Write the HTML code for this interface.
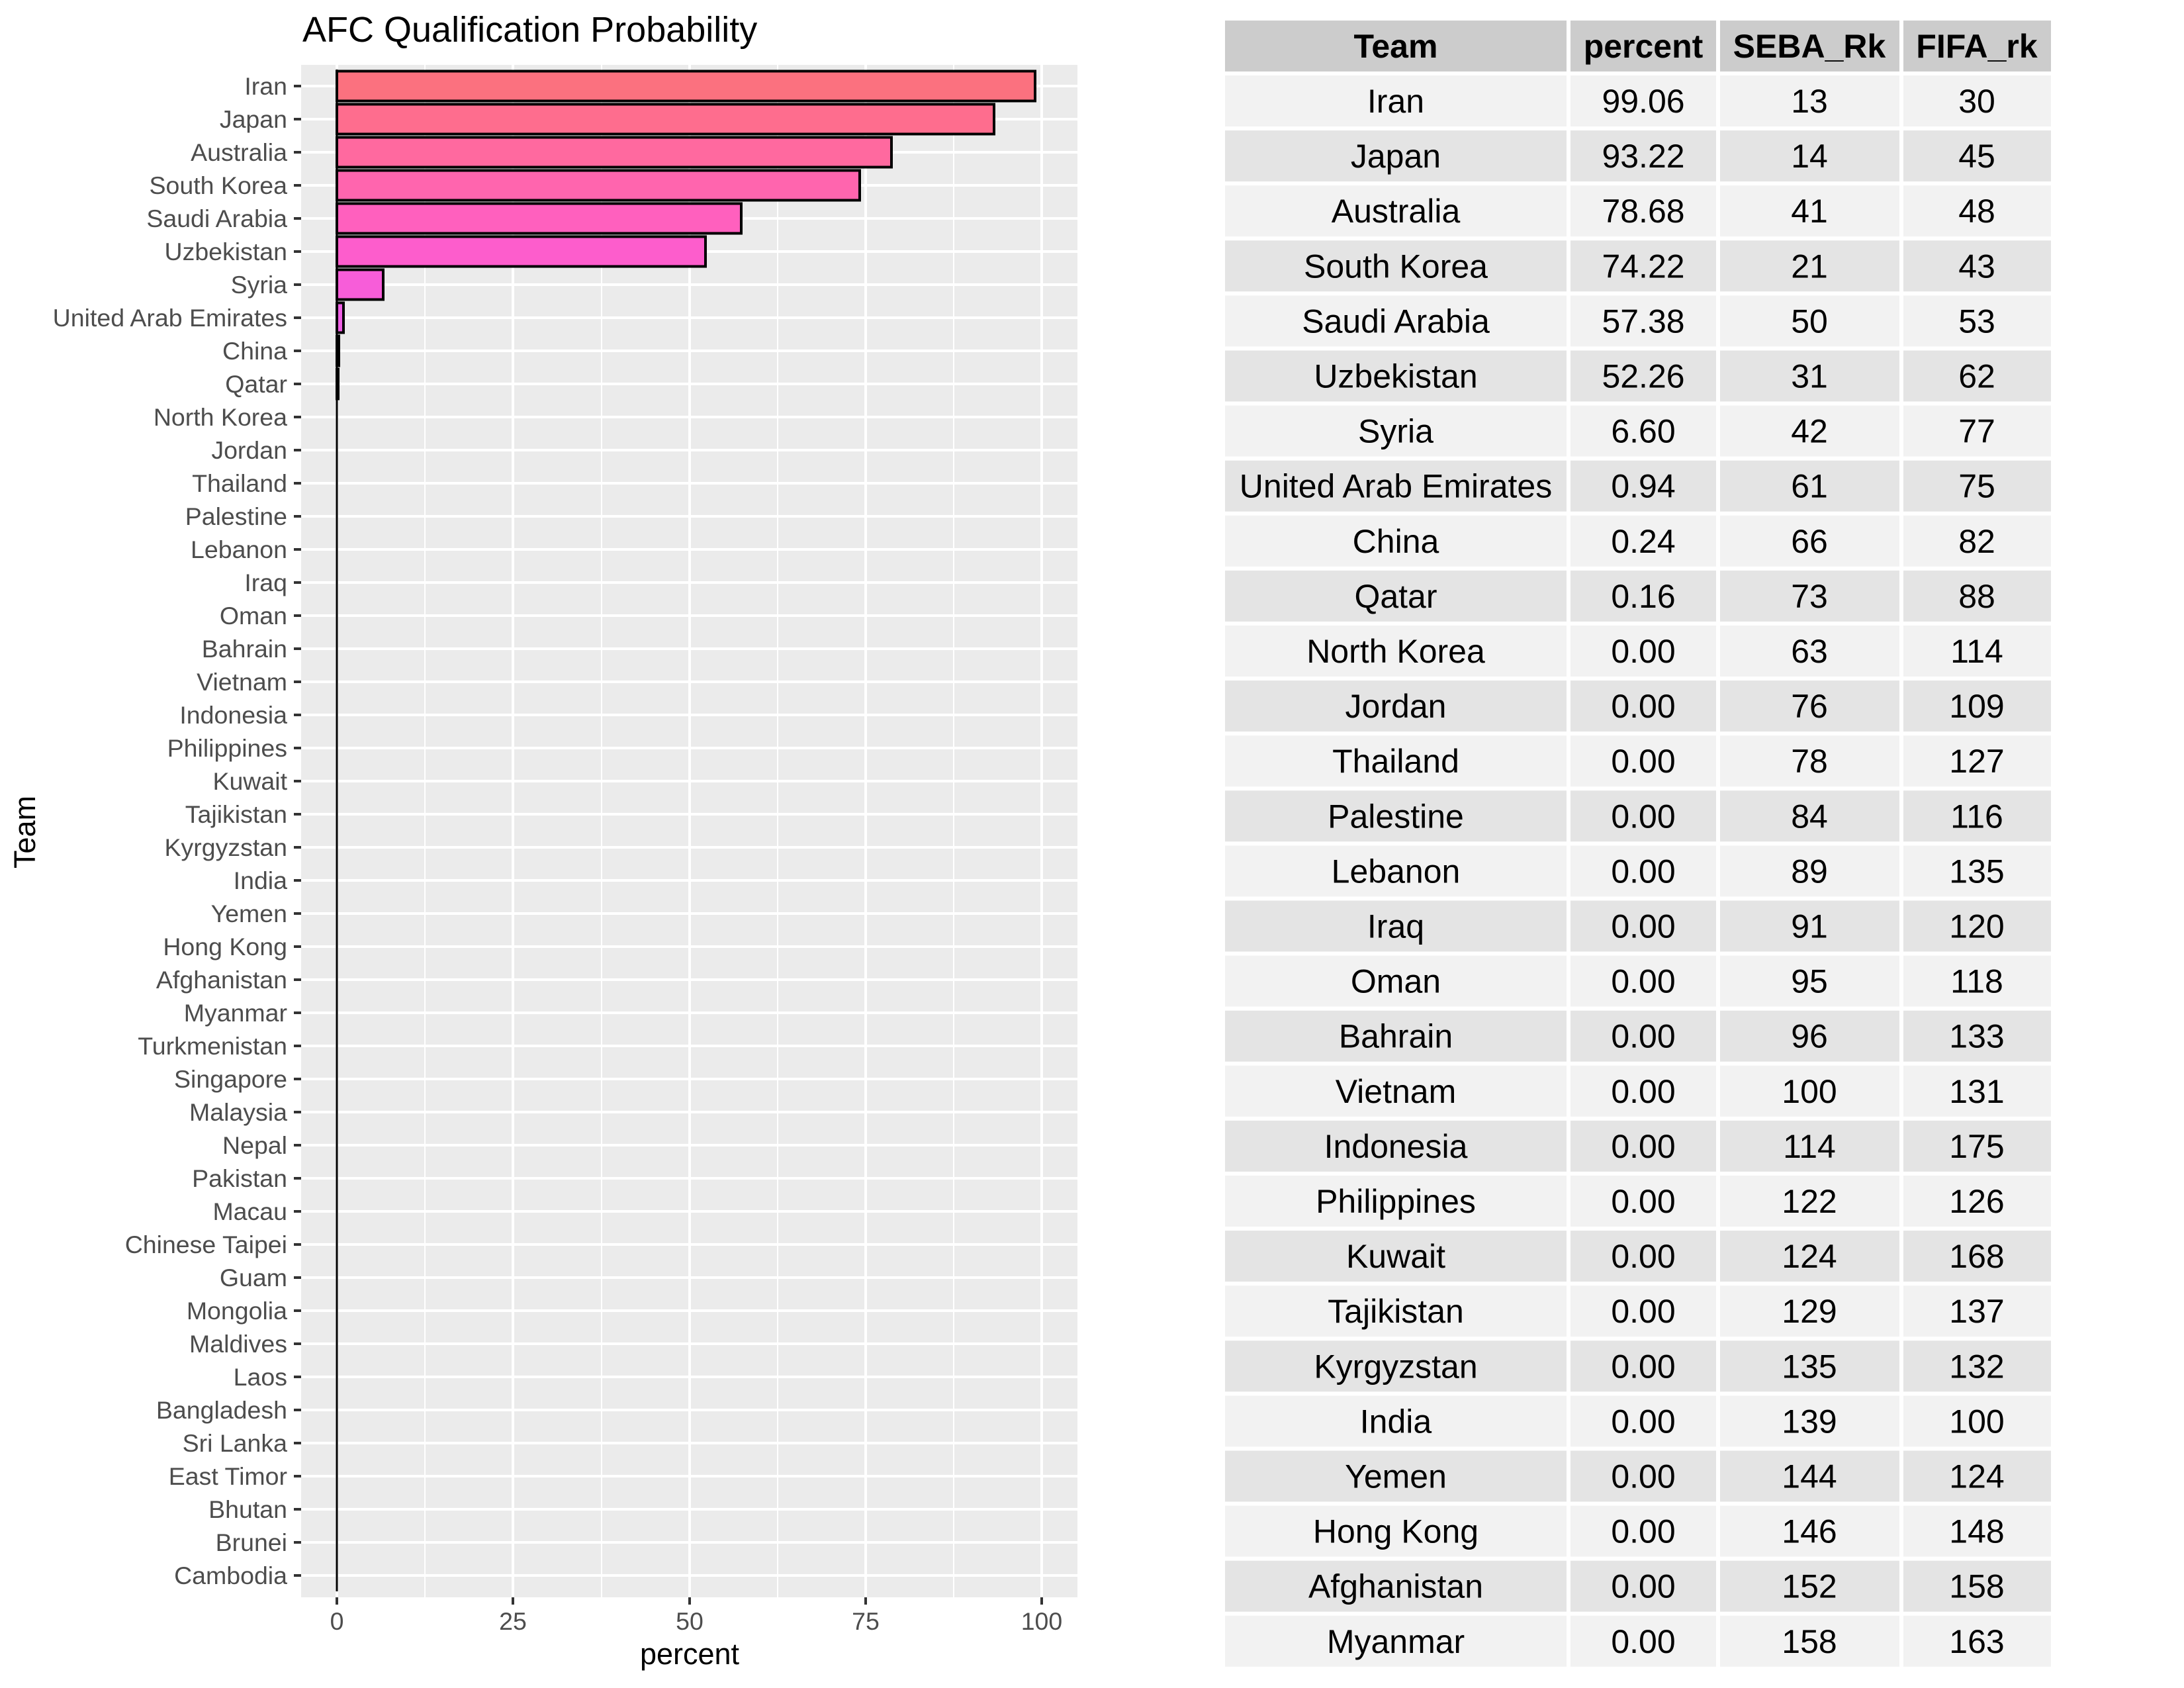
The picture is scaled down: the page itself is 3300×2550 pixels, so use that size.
<!DOCTYPE html>
<html><head><meta charset="utf-8"><style>
body{margin:0;background:#fff}
svg{display:block}
</style></head><body>
<svg width="3300" height="2550" xmlns="http://www.w3.org/2000/svg" font-family="Liberation Sans, sans-serif">
<rect width="3300" height="2550" fill="#fff"/>
<text x="457" y="63" font-size="54" fill="#000">AFC Qualification Probability</text>
<rect x="455" y="98" width="1173" height="2315" fill="#EBEBEB"/>
<g stroke="#fff" stroke-width="2">
<line x1="642" y1="98" x2="642" y2="2413"/><line x1="909" y1="98" x2="909" y2="2413"/><line x1="1175" y1="98" x2="1175" y2="2413"/><line x1="1441" y1="98" x2="1441" y2="2413"/>
</g>
<g stroke="#fff" stroke-width="4">
<line x1="509" y1="98" x2="509" y2="2413"/><line x1="775" y1="98" x2="775" y2="2413"/><line x1="1042" y1="98" x2="1042" y2="2413"/><line x1="1308" y1="98" x2="1308" y2="2413"/><line x1="1574" y1="98" x2="1574" y2="2413"/>
</g>
<g stroke="#fff" stroke-width="4">
<line x1="455" x2="1628" y1="130" y2="130"/><line x1="455" x2="1628" y1="180" y2="180"/><line x1="455" x2="1628" y1="230" y2="230"/><line x1="455" x2="1628" y1="280" y2="280"/><line x1="455" x2="1628" y1="330" y2="330"/><line x1="455" x2="1628" y1="380" y2="380"/><line x1="455" x2="1628" y1="430" y2="430"/><line x1="455" x2="1628" y1="480" y2="480"/><line x1="455" x2="1628" y1="530" y2="530"/><line x1="455" x2="1628" y1="580" y2="580"/><line x1="455" x2="1628" y1="630" y2="630"/><line x1="455" x2="1628" y1="680" y2="680"/><line x1="455" x2="1628" y1="730" y2="730"/><line x1="455" x2="1628" y1="780" y2="780"/><line x1="455" x2="1628" y1="830" y2="830"/><line x1="455" x2="1628" y1="880" y2="880"/><line x1="455" x2="1628" y1="930" y2="930"/><line x1="455" x2="1628" y1="980" y2="980"/><line x1="455" x2="1628" y1="1030" y2="1030"/><line x1="455" x2="1628" y1="1080" y2="1080"/><line x1="455" x2="1628" y1="1130" y2="1130"/><line x1="455" x2="1628" y1="1180" y2="1180"/><line x1="455" x2="1628" y1="1230" y2="1230"/><line x1="455" x2="1628" y1="1280" y2="1280"/><line x1="455" x2="1628" y1="1330" y2="1330"/><line x1="455" x2="1628" y1="1380" y2="1380"/><line x1="455" x2="1628" y1="1430" y2="1430"/><line x1="455" x2="1628" y1="1480" y2="1480"/><line x1="455" x2="1628" y1="1530" y2="1530"/><line x1="455" x2="1628" y1="1580" y2="1580"/><line x1="455" x2="1628" y1="1630" y2="1630"/><line x1="455" x2="1628" y1="1680" y2="1680"/><line x1="455" x2="1628" y1="1730" y2="1730"/><line x1="455" x2="1628" y1="1780" y2="1780"/><line x1="455" x2="1628" y1="1830" y2="1830"/><line x1="455" x2="1628" y1="1880" y2="1880"/><line x1="455" x2="1628" y1="1930" y2="1930"/><line x1="455" x2="1628" y1="1980" y2="1980"/><line x1="455" x2="1628" y1="2030" y2="2030"/><line x1="455" x2="1628" y1="2080" y2="2080"/><line x1="455" x2="1628" y1="2130" y2="2130"/><line x1="455" x2="1628" y1="2180" y2="2180"/><line x1="455" x2="1628" y1="2230" y2="2230"/><line x1="455" x2="1628" y1="2280" y2="2280"/><line x1="455" x2="1628" y1="2330" y2="2330"/><line x1="455" x2="1628" y1="2380" y2="2380"/>
</g>
<line x1="509" y1="105" x2="509" y2="2404" stroke="#000" stroke-width="3"/>
<g stroke="#000" stroke-width="4">
<rect x="509" y="107.5" width="1055" height="45" fill="#FB717F"/>
<rect x="509" y="157.5" width="993" height="45" fill="#FE6D8E"/>
<rect x="509" y="207.5" width="838" height="45" fill="#FF699F"/>
<rect x="509" y="257.5" width="790" height="45" fill="#FF65AE"/>
<rect x="509" y="307.5" width="611" height="45" fill="#FF60BE"/>
<rect x="509" y="357.5" width="557" height="45" fill="#FD5DCC"/>
<rect x="509" y="407.5" width="70" height="45" fill="#F75DD9"/>
<rect x="509" y="457.5" width="10" height="45" fill="#EE5FE4"/>
<rect x="509" y="507.5" width="3" height="45" fill="#E462EC"/>
<rect x="509" y="557.5" width="2" height="45" fill="#D866F3"/>
</g>
<g stroke="#333" stroke-width="4">
<line x1="444" x2="455" y1="130" y2="130"/><line x1="444" x2="455" y1="180" y2="180"/><line x1="444" x2="455" y1="230" y2="230"/><line x1="444" x2="455" y1="280" y2="280"/><line x1="444" x2="455" y1="330" y2="330"/><line x1="444" x2="455" y1="380" y2="380"/><line x1="444" x2="455" y1="430" y2="430"/><line x1="444" x2="455" y1="480" y2="480"/><line x1="444" x2="455" y1="530" y2="530"/><line x1="444" x2="455" y1="580" y2="580"/><line x1="444" x2="455" y1="630" y2="630"/><line x1="444" x2="455" y1="680" y2="680"/><line x1="444" x2="455" y1="730" y2="730"/><line x1="444" x2="455" y1="780" y2="780"/><line x1="444" x2="455" y1="830" y2="830"/><line x1="444" x2="455" y1="880" y2="880"/><line x1="444" x2="455" y1="930" y2="930"/><line x1="444" x2="455" y1="980" y2="980"/><line x1="444" x2="455" y1="1030" y2="1030"/><line x1="444" x2="455" y1="1080" y2="1080"/><line x1="444" x2="455" y1="1130" y2="1130"/><line x1="444" x2="455" y1="1180" y2="1180"/><line x1="444" x2="455" y1="1230" y2="1230"/><line x1="444" x2="455" y1="1280" y2="1280"/><line x1="444" x2="455" y1="1330" y2="1330"/><line x1="444" x2="455" y1="1380" y2="1380"/><line x1="444" x2="455" y1="1430" y2="1430"/><line x1="444" x2="455" y1="1480" y2="1480"/><line x1="444" x2="455" y1="1530" y2="1530"/><line x1="444" x2="455" y1="1580" y2="1580"/><line x1="444" x2="455" y1="1630" y2="1630"/><line x1="444" x2="455" y1="1680" y2="1680"/><line x1="444" x2="455" y1="1730" y2="1730"/><line x1="444" x2="455" y1="1780" y2="1780"/><line x1="444" x2="455" y1="1830" y2="1830"/><line x1="444" x2="455" y1="1880" y2="1880"/><line x1="444" x2="455" y1="1930" y2="1930"/><line x1="444" x2="455" y1="1980" y2="1980"/><line x1="444" x2="455" y1="2030" y2="2030"/><line x1="444" x2="455" y1="2080" y2="2080"/><line x1="444" x2="455" y1="2130" y2="2130"/><line x1="444" x2="455" y1="2180" y2="2180"/><line x1="444" x2="455" y1="2230" y2="2230"/><line x1="444" x2="455" y1="2280" y2="2280"/><line x1="444" x2="455" y1="2330" y2="2330"/><line x1="444" x2="455" y1="2380" y2="2380"/>
<line x1="509" x2="509" y1="2413" y2="2424"/><line x1="775" x2="775" y1="2413" y2="2424"/><line x1="1042" x2="1042" y1="2413" y2="2424"/><line x1="1308" x2="1308" y1="2413" y2="2424"/><line x1="1574" x2="1574" y1="2413" y2="2424"/>
</g>
<g font-size="37.5" fill="#4D4D4D" text-anchor="end">
<text x="434" y="143">Iran</text><text x="434" y="193">Japan</text><text x="434" y="243">Australia</text><text x="434" y="293">South Korea</text><text x="434" y="343">Saudi Arabia</text><text x="434" y="393">Uzbekistan</text><text x="434" y="443">Syria</text><text x="434" y="493">United Arab Emirates</text><text x="434" y="543">China</text><text x="434" y="593">Qatar</text><text x="434" y="643">North Korea</text><text x="434" y="693">Jordan</text><text x="434" y="743">Thailand</text><text x="434" y="793">Palestine</text><text x="434" y="843">Lebanon</text><text x="434" y="893">Iraq</text><text x="434" y="943">Oman</text><text x="434" y="993">Bahrain</text><text x="434" y="1043">Vietnam</text><text x="434" y="1093">Indonesia</text><text x="434" y="1143">Philippines</text><text x="434" y="1193">Kuwait</text><text x="434" y="1243">Tajikistan</text><text x="434" y="1293">Kyrgyzstan</text><text x="434" y="1343">India</text><text x="434" y="1393">Yemen</text><text x="434" y="1443">Hong Kong</text><text x="434" y="1493">Afghanistan</text><text x="434" y="1543">Myanmar</text><text x="434" y="1593">Turkmenistan</text><text x="434" y="1643">Singapore</text><text x="434" y="1693">Malaysia</text><text x="434" y="1743">Nepal</text><text x="434" y="1793">Pakistan</text><text x="434" y="1843">Macau</text><text x="434" y="1893">Chinese Taipei</text><text x="434" y="1943">Guam</text><text x="434" y="1993">Mongolia</text><text x="434" y="2043">Maldives</text><text x="434" y="2093">Laos</text><text x="434" y="2143">Bangladesh</text><text x="434" y="2193">Sri Lanka</text><text x="434" y="2243">East Timor</text><text x="434" y="2293">Bhutan</text><text x="434" y="2343">Brunei</text><text x="434" y="2393">Cambodia</text>
</g>
<g font-size="37.5" fill="#4D4D4D" text-anchor="middle">
<text x="509" y="2462">0</text><text x="775" y="2462">25</text><text x="1042" y="2462">50</text><text x="1308" y="2462">75</text><text x="1574" y="2462">100</text>
</g>
<text x="1042" y="2514" font-size="45" text-anchor="middle" fill="#000">percent</text>
<text transform="translate(53,1257) rotate(-90)" font-size="45" text-anchor="middle" fill="#000">Team</text>

<g fill="#CCCCCC">
<rect x="1851" y="31" width="516" height="77"/><rect x="2373" y="31" width="220" height="77"/><rect x="2599" y="31" width="271" height="77"/><rect x="2876" y="31" width="223" height="77"/>
</g>
<g font-size="50" font-weight="bold" text-anchor="middle" fill="#000">
<text x="2109" y="87">Team</text><text x="2483" y="87">percent</text><text x="2734" y="87">SEBA_Rk</text><text x="2987" y="87">FIFA_rk</text>
</g>
<g>
<g fill="#F2F2F2"><rect x="1851" y="114" width="516" height="77"/><rect x="2373" y="114" width="220" height="77"/><rect x="2599" y="114" width="271" height="77"/><rect x="2876" y="114" width="223" height="77"/></g>
<g fill="#E4E4E4"><rect x="1851" y="197.1" width="516" height="77"/><rect x="2373" y="197.1" width="220" height="77"/><rect x="2599" y="197.1" width="271" height="77"/><rect x="2876" y="197.1" width="223" height="77"/></g>
<g fill="#F2F2F2"><rect x="1851" y="280.2" width="516" height="77"/><rect x="2373" y="280.2" width="220" height="77"/><rect x="2599" y="280.2" width="271" height="77"/><rect x="2876" y="280.2" width="223" height="77"/></g>
<g fill="#E4E4E4"><rect x="1851" y="363.3" width="516" height="77"/><rect x="2373" y="363.3" width="220" height="77"/><rect x="2599" y="363.3" width="271" height="77"/><rect x="2876" y="363.3" width="223" height="77"/></g>
<g fill="#F2F2F2"><rect x="1851" y="446.4" width="516" height="77"/><rect x="2373" y="446.4" width="220" height="77"/><rect x="2599" y="446.4" width="271" height="77"/><rect x="2876" y="446.4" width="223" height="77"/></g>
<g fill="#E4E4E4"><rect x="1851" y="529.5" width="516" height="77"/><rect x="2373" y="529.5" width="220" height="77"/><rect x="2599" y="529.5" width="271" height="77"/><rect x="2876" y="529.5" width="223" height="77"/></g>
<g fill="#F2F2F2"><rect x="1851" y="612.6" width="516" height="77"/><rect x="2373" y="612.6" width="220" height="77"/><rect x="2599" y="612.6" width="271" height="77"/><rect x="2876" y="612.6" width="223" height="77"/></g>
<g fill="#E4E4E4"><rect x="1851" y="695.7" width="516" height="77"/><rect x="2373" y="695.7" width="220" height="77"/><rect x="2599" y="695.7" width="271" height="77"/><rect x="2876" y="695.7" width="223" height="77"/></g>
<g fill="#F2F2F2"><rect x="1851" y="778.8" width="516" height="77"/><rect x="2373" y="778.8" width="220" height="77"/><rect x="2599" y="778.8" width="271" height="77"/><rect x="2876" y="778.8" width="223" height="77"/></g>
<g fill="#E4E4E4"><rect x="1851" y="861.9" width="516" height="77"/><rect x="2373" y="861.9" width="220" height="77"/><rect x="2599" y="861.9" width="271" height="77"/><rect x="2876" y="861.9" width="223" height="77"/></g>
<g fill="#F2F2F2"><rect x="1851" y="945" width="516" height="77"/><rect x="2373" y="945" width="220" height="77"/><rect x="2599" y="945" width="271" height="77"/><rect x="2876" y="945" width="223" height="77"/></g>
<g fill="#E4E4E4"><rect x="1851" y="1028.1" width="516" height="77"/><rect x="2373" y="1028.1" width="220" height="77"/><rect x="2599" y="1028.1" width="271" height="77"/><rect x="2876" y="1028.1" width="223" height="77"/></g>
<g fill="#F2F2F2"><rect x="1851" y="1111.2" width="516" height="77"/><rect x="2373" y="1111.2" width="220" height="77"/><rect x="2599" y="1111.2" width="271" height="77"/><rect x="2876" y="1111.2" width="223" height="77"/></g>
<g fill="#E4E4E4"><rect x="1851" y="1194.3" width="516" height="77"/><rect x="2373" y="1194.3" width="220" height="77"/><rect x="2599" y="1194.3" width="271" height="77"/><rect x="2876" y="1194.3" width="223" height="77"/></g>
<g fill="#F2F2F2"><rect x="1851" y="1277.4" width="516" height="77"/><rect x="2373" y="1277.4" width="220" height="77"/><rect x="2599" y="1277.4" width="271" height="77"/><rect x="2876" y="1277.4" width="223" height="77"/></g>
<g fill="#E4E4E4"><rect x="1851" y="1360.5" width="516" height="77"/><rect x="2373" y="1360.5" width="220" height="77"/><rect x="2599" y="1360.5" width="271" height="77"/><rect x="2876" y="1360.5" width="223" height="77"/></g>
<g fill="#F2F2F2"><rect x="1851" y="1443.6" width="516" height="77"/><rect x="2373" y="1443.6" width="220" height="77"/><rect x="2599" y="1443.6" width="271" height="77"/><rect x="2876" y="1443.6" width="223" height="77"/></g>
<g fill="#E4E4E4"><rect x="1851" y="1526.7" width="516" height="77"/><rect x="2373" y="1526.7" width="220" height="77"/><rect x="2599" y="1526.7" width="271" height="77"/><rect x="2876" y="1526.7" width="223" height="77"/></g>
<g fill="#F2F2F2"><rect x="1851" y="1609.8" width="516" height="77"/><rect x="2373" y="1609.8" width="220" height="77"/><rect x="2599" y="1609.8" width="271" height="77"/><rect x="2876" y="1609.8" width="223" height="77"/></g>
<g fill="#E4E4E4"><rect x="1851" y="1692.9" width="516" height="77"/><rect x="2373" y="1692.9" width="220" height="77"/><rect x="2599" y="1692.9" width="271" height="77"/><rect x="2876" y="1692.9" width="223" height="77"/></g>
<g fill="#F2F2F2"><rect x="1851" y="1776" width="516" height="77"/><rect x="2373" y="1776" width="220" height="77"/><rect x="2599" y="1776" width="271" height="77"/><rect x="2876" y="1776" width="223" height="77"/></g>
<g fill="#E4E4E4"><rect x="1851" y="1859.1" width="516" height="77"/><rect x="2373" y="1859.1" width="220" height="77"/><rect x="2599" y="1859.1" width="271" height="77"/><rect x="2876" y="1859.1" width="223" height="77"/></g>
<g fill="#F2F2F2"><rect x="1851" y="1942.2" width="516" height="77"/><rect x="2373" y="1942.2" width="220" height="77"/><rect x="2599" y="1942.2" width="271" height="77"/><rect x="2876" y="1942.2" width="223" height="77"/></g>
<g fill="#E4E4E4"><rect x="1851" y="2025.3" width="516" height="77"/><rect x="2373" y="2025.3" width="220" height="77"/><rect x="2599" y="2025.3" width="271" height="77"/><rect x="2876" y="2025.3" width="223" height="77"/></g>
<g fill="#F2F2F2"><rect x="1851" y="2108.4" width="516" height="77"/><rect x="2373" y="2108.4" width="220" height="77"/><rect x="2599" y="2108.4" width="271" height="77"/><rect x="2876" y="2108.4" width="223" height="77"/></g>
<g fill="#E4E4E4"><rect x="1851" y="2191.5" width="516" height="77"/><rect x="2373" y="2191.5" width="220" height="77"/><rect x="2599" y="2191.5" width="271" height="77"/><rect x="2876" y="2191.5" width="223" height="77"/></g>
<g fill="#F2F2F2"><rect x="1851" y="2274.6" width="516" height="77"/><rect x="2373" y="2274.6" width="220" height="77"/><rect x="2599" y="2274.6" width="271" height="77"/><rect x="2876" y="2274.6" width="223" height="77"/></g>
<g fill="#E4E4E4"><rect x="1851" y="2357.7" width="516" height="77"/><rect x="2373" y="2357.7" width="220" height="77"/><rect x="2599" y="2357.7" width="271" height="77"/><rect x="2876" y="2357.7" width="223" height="77"/></g>
<g fill="#F2F2F2"><rect x="1851" y="2440.8" width="516" height="77"/><rect x="2373" y="2440.8" width="220" height="77"/><rect x="2599" y="2440.8" width="271" height="77"/><rect x="2876" y="2440.8" width="223" height="77"/></g>
</g>
<g font-size="50" text-anchor="middle" fill="#000">
<text x="2109" y="170">Iran</text><text x="2483" y="170">99.06</text><text x="2734" y="170">13</text><text x="2987" y="170">30</text>
<text x="2109" y="253.1">Japan</text><text x="2483" y="253.1">93.22</text><text x="2734" y="253.1">14</text><text x="2987" y="253.1">45</text>
<text x="2109" y="336.2">Australia</text><text x="2483" y="336.2">78.68</text><text x="2734" y="336.2">41</text><text x="2987" y="336.2">48</text>
<text x="2109" y="419.3">South Korea</text><text x="2483" y="419.3">74.22</text><text x="2734" y="419.3">21</text><text x="2987" y="419.3">43</text>
<text x="2109" y="502.4">Saudi Arabia</text><text x="2483" y="502.4">57.38</text><text x="2734" y="502.4">50</text><text x="2987" y="502.4">53</text>
<text x="2109" y="585.5">Uzbekistan</text><text x="2483" y="585.5">52.26</text><text x="2734" y="585.5">31</text><text x="2987" y="585.5">62</text>
<text x="2109" y="668.6">Syria</text><text x="2483" y="668.6">6.60</text><text x="2734" y="668.6">42</text><text x="2987" y="668.6">77</text>
<text x="2109" y="751.7">United Arab Emirates</text><text x="2483" y="751.7">0.94</text><text x="2734" y="751.7">61</text><text x="2987" y="751.7">75</text>
<text x="2109" y="834.8">China</text><text x="2483" y="834.8">0.24</text><text x="2734" y="834.8">66</text><text x="2987" y="834.8">82</text>
<text x="2109" y="917.9">Qatar</text><text x="2483" y="917.9">0.16</text><text x="2734" y="917.9">73</text><text x="2987" y="917.9">88</text>
<text x="2109" y="1001">North Korea</text><text x="2483" y="1001">0.00</text><text x="2734" y="1001">63</text><text x="2987" y="1001">114</text>
<text x="2109" y="1084.1">Jordan</text><text x="2483" y="1084.1">0.00</text><text x="2734" y="1084.1">76</text><text x="2987" y="1084.1">109</text>
<text x="2109" y="1167.2">Thailand</text><text x="2483" y="1167.2">0.00</text><text x="2734" y="1167.2">78</text><text x="2987" y="1167.2">127</text>
<text x="2109" y="1250.3">Palestine</text><text x="2483" y="1250.3">0.00</text><text x="2734" y="1250.3">84</text><text x="2987" y="1250.3">116</text>
<text x="2109" y="1333.4">Lebanon</text><text x="2483" y="1333.4">0.00</text><text x="2734" y="1333.4">89</text><text x="2987" y="1333.4">135</text>
<text x="2109" y="1416.5">Iraq</text><text x="2483" y="1416.5">0.00</text><text x="2734" y="1416.5">91</text><text x="2987" y="1416.5">120</text>
<text x="2109" y="1499.6">Oman</text><text x="2483" y="1499.6">0.00</text><text x="2734" y="1499.6">95</text><text x="2987" y="1499.6">118</text>
<text x="2109" y="1582.7">Bahrain</text><text x="2483" y="1582.7">0.00</text><text x="2734" y="1582.7">96</text><text x="2987" y="1582.7">133</text>
<text x="2109" y="1665.8">Vietnam</text><text x="2483" y="1665.8">0.00</text><text x="2734" y="1665.8">100</text><text x="2987" y="1665.8">131</text>
<text x="2109" y="1748.9">Indonesia</text><text x="2483" y="1748.9">0.00</text><text x="2734" y="1748.9">114</text><text x="2987" y="1748.9">175</text>
<text x="2109" y="1832">Philippines</text><text x="2483" y="1832">0.00</text><text x="2734" y="1832">122</text><text x="2987" y="1832">126</text>
<text x="2109" y="1915.1">Kuwait</text><text x="2483" y="1915.1">0.00</text><text x="2734" y="1915.1">124</text><text x="2987" y="1915.1">168</text>
<text x="2109" y="1998.2">Tajikistan</text><text x="2483" y="1998.2">0.00</text><text x="2734" y="1998.2">129</text><text x="2987" y="1998.2">137</text>
<text x="2109" y="2081.3">Kyrgyzstan</text><text x="2483" y="2081.3">0.00</text><text x="2734" y="2081.3">135</text><text x="2987" y="2081.3">132</text>
<text x="2109" y="2164.4">India</text><text x="2483" y="2164.4">0.00</text><text x="2734" y="2164.4">139</text><text x="2987" y="2164.4">100</text>
<text x="2109" y="2247.5">Yemen</text><text x="2483" y="2247.5">0.00</text><text x="2734" y="2247.5">144</text><text x="2987" y="2247.5">124</text>
<text x="2109" y="2330.6">Hong Kong</text><text x="2483" y="2330.6">0.00</text><text x="2734" y="2330.6">146</text><text x="2987" y="2330.6">148</text>
<text x="2109" y="2413.7">Afghanistan</text><text x="2483" y="2413.7">0.00</text><text x="2734" y="2413.7">152</text><text x="2987" y="2413.7">158</text>
<text x="2109" y="2496.8">Myanmar</text><text x="2483" y="2496.8">0.00</text><text x="2734" y="2496.8">158</text><text x="2987" y="2496.8">163</text>
</g>
</svg>
</body></html>
